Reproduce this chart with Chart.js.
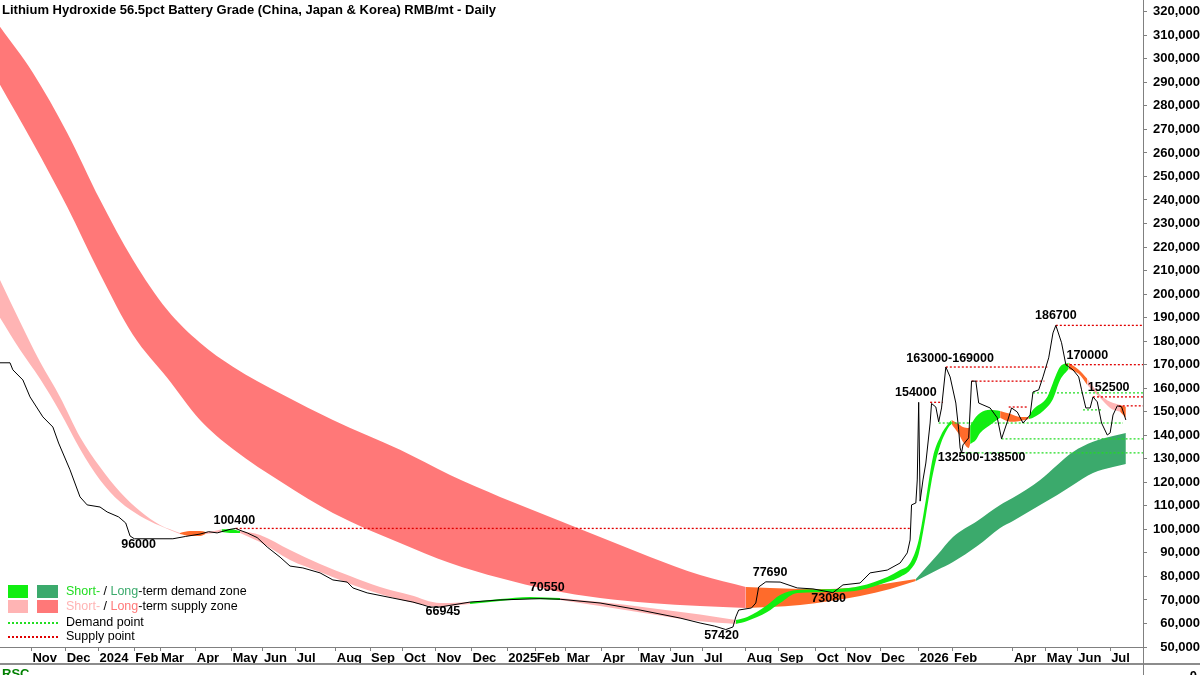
<!DOCTYPE html>
<html>
<head>
<meta charset="utf-8">
<title>Lithium Hydroxide Battery Grade - Daily</title>
<script src="https://cdn.jsdelivr.net/npm/chart.js@4.4.1/dist/chart.umd.min.js"></script>
<style>
  html, body { margin: 0; padding: 0; background: #fff; }
  canvas { display: block; }
</style>
</head>
<body>
<canvas id="chart" width="1200" height="675"></canvas>
<script>
'use strict';

// x axis is a trading-day index, 0 = left edge of the chart
const titleText = 'Lithium Hydroxide 56.5pct Battery Grade (China, Japan & Korea) RMB/mt - Daily';

const monthLabels = ['Nov', 'Dec', '2024', 'Feb', 'Mar', 'Apr', 'May', 'Jun', 'Jul', 'Aug', 'Sep', 'Oct', 'Nov', 'Dec',
  '2025', 'Feb', 'Mar', 'Apr', 'May', 'Jun', 'Jul', 'Aug', 'Sep', 'Oct', 'Nov', 'Dec', '2026', 'Feb', 'Apr', 'May', 'Jun', 'Jul'];
const monthStarts = [22, 46, 69, 94, 112, 137, 162, 184, 207, 235, 259, 282, 305, 330,
  355, 375, 396, 421, 447, 469, 492, 522, 545, 571, 592, 616, 643, 667, 709, 732, 754, 777];

const yTicks = [];
for (let v = 50000; v <= 320000; v += 10000) yTicks.push(v);

// Price
const priceDays = [0, 7, 9, 16, 21, 30, 37, 41, 49, 56,
  61, 70, 75, 83, 88, 91, 94, 121, 130, 140,
  146, 152, 161, 165, 168, 173, 180, 187, 196, 203,
  212, 224, 233, 243, 247, 257, 275, 289, 296, 301,
  308, 329, 350, 378, 392, 420, 448, 476, 490, 500,
  508, 513, 515, 517, 526, 529, 531, 536, 546, 558,
  569, 583, 590, 602, 609, 621, 630, 635, 637, 638,
  641, 642, 643, 644, 646, 648, 651, 652, 655, 657,
  659, 662, 665, 669, 671, 672, 673, 674, 678, 680,
  683, 685, 688, 693, 698, 701, 705, 708, 712, 716,
  721, 723, 727, 730, 734, 737, 739, 743, 746, 748,
  751, 755, 757, 760, 763, 765, 768, 771, 775, 777,
  779, 782, 785, 788];
const priceValues = [170800, 170800, 167800, 163500, 156300, 147800, 143500, 136700, 125300, 113800,
  110400, 109500, 107400, 105300, 102700, 97200, 96000, 96000, 97000, 98000,
  99000, 98500, 100000, 100400, 99600, 98500, 96500, 92500, 88200, 84400,
  83600, 81500, 78500, 77600, 75100, 73000, 70800, 69100, 67900, 66945,
  67000, 69100, 70000, 70550, 70300, 68700, 65700, 62300, 60200, 58900,
  57420, 58500, 62800, 65700, 66600, 68700, 75500, 77690, 77600, 75100,
  74700, 73080, 76400, 77200, 81500, 82700, 85700, 90000, 95500, 110400,
  111200, 121000, 154000, 112000, 121000, 128200, 145200, 153500, 152000, 145700,
  151600, 169000, 164800, 153700, 142300, 134600, 132500, 135900, 138900, 163000,
  163000, 153700, 152900, 151600, 147400, 138500, 145700, 151600, 149900, 145200,
  148600, 158400, 159300, 164800, 172900, 183500, 186700, 179300, 170000, 169100,
  167800, 164800, 159300, 151600, 151600, 156300, 154200, 145200, 140100, 141000,
  148600, 152500, 152100, 146500];

// Short-term zone (upper / lower edge) and how it is classed between breaks
const shortDays = [0, 14, 28, 42, 56, 70, 84, 98, 112, 126,
  133, 140, 144, 150, 155, 161, 168, 182, 203, 224,
  245, 266, 287, 308, 315, 329, 350, 371, 392, 420,
  455, 490, 515, 523, 537, 546, 558, 586, 602, 621,
  630, 637, 643, 648, 653, 658, 664, 666, 671, 674,
  678, 679, 683, 686, 693, 700, 707, 714, 720, 723,
  733, 737, 742, 748, 755, 761, 763, 770, 777, 784, 788];
const shortUpper = [206000, 188200, 171200, 156300, 139300, 126500, 115900, 107800, 101900, 98500,
  99300, 99300, 98900, 99300, 100000, 100200, 99300, 97600, 91200, 85300,
  80200, 75500, 72100, 68700, 68700, 69100, 70400, 71300, 70800, 69100,
  66600, 63800, 61500, 62800, 67900, 72100, 74200, 74700, 75900, 79800,
  82700, 85700, 95500, 112500, 130800, 139300, 145200, 146500, 144800, 143500,
  143100, 144000, 147800, 149500, 150800, 150300, 149100, 147800, 147800, 150800,
  156300, 162300, 169100, 170800, 167800, 164000, 162300, 157200, 154200, 152900, 152100];
const shortLower = [189900, 176300, 164000, 149900, 134200, 121000, 111700, 105700, 101500, 98000,
  97200, 97200, 98000, 98500, 98900, 98500, 98500, 94600, 87000, 81900,
  76800, 72500, 69100, 67000, 67400, 68300, 69600, 70400, 70000, 67400,
  64000, 60900, 59800, 61100, 64900, 68700, 73000, 73400, 74200, 77600,
  79800, 82700, 89500, 105700, 123600, 135500, 143500, 144800, 140600, 137200,
  134600, 136300, 138000, 141000, 144400, 147400, 145700, 146100, 146900, 147400,
  152000, 155400, 163500, 168200, 166100, 161400, 160100, 155900, 151600, 150000, 147400];
const shortBreaks = [0, 126, 144, 155, 168, 329, 392, 515, 666, 679, 700, 720, 748, 761, 784, 788];
const shortKinds = ['supply', 'turn', 'supply', 'demand', 'supply', 'demand', 'supply', 'demand',
  'turn', 'demand', 'turn', 'demand', 'turn', 'supply', 'turn'];

// Long-term zone
const longDays = [0, 23, 47, 70, 93, 117, 140, 163, 198, 233, 280, 315, 350, 385, 420, 455, 490, 522,
  539, 560, 581, 602, 623, 641, 656, 667, 684, 700, 709, 728, 740, 751, 765, 779, 788];
const longUpper = [313600, 294100, 268600, 240100, 214600, 193300, 179300, 169100, 157200, 146500,
  133800, 123100, 113800, 105300, 96800, 88300, 80600, 75500,
  75100, 74700, 74700, 75500, 77200, 78900, 89100, 96800, 103600, 110400, 113400, 121000,
  127400, 132900, 137200, 139700, 141000];
const longLower = [289000, 264300, 237100, 208500, 182700, 164400, 146500, 134200, 119700, 107000,
  94200, 85700, 79300, 74200, 70800, 68700, 67400, 66600,
  67000, 67900, 69600, 71700, 74700, 78100, 82700, 86100, 92900, 100600, 103600, 110400,
  114600, 118900, 124000, 126500, 127800];
const longBreaks = [0, 522, 641, 788];
const longKinds = ['supply', 'turn', 'demand'];

// Supply / demand points
const supplyLevels = [100400, 154000, 169000, 163000, 152000, 186700, 170000, 156300, 152500];
const supplyFrom = [165, 651, 662, 680, 706, 739, 746, 765, 783];
const supplyTo = [637, 660, 733, 731, 719, 800, 800, 800, 800];
const demandLevels = [145200, 158000, 150800, 138500, 132500];
const demandFrom = [657, 723, 758, 701, 673];
const demandTo = [786, 800, 771, 800, 800];

// Price labels
const labelTexts = ['96000', '100400', '66945', '70550', '57420', '77690', '73080', '154000',
  '163000-169000', '132500-138500', '186700', '170000', '152500'];
const labelDays = [97, 164, 310, 383, 505, 539, 580, 641, 665, 687, 739, 761, 776];
const labelValues = [93400, 103600, 64900, 75100, 54700, 81500, 70400, 158000, 172500, 130400, 191000, 173700, 160100];

// Colours
const fontFamily = '"Liberation Sans", Arial, sans-serif';
const shortColors = { supply: '#FFB4B4', demand: '#11EE11', turn: '#FF6B2B' };
const longColors = { supply: '#FF7878', demand: '#3BAA6C', turn: '#FF6B2B' };
const supplyDot = '#E00000';
const demandDot = '#22DD22';

function zoneDatasets(days, upper, lower, breaks, kinds, colors) {
  const out = [];
  for (let s = 0; s < kinds.length; s++) {
    const idx = [];
    days.forEach((d, i) => {
      if (d >= breaks[s] && d <= breaks[s + 1]) idx.push(i);
    });
    out.push({
      data: idx.map(i => ({ x: days[i], y: upper[i] })),
      borderColor: 'rgba(0,0,0,0)', borderWidth: 0, pointRadius: 0,
      fill: false, cubicInterpolationMode: 'monotone'
    });
    out.push({
      data: idx.map(i => ({ x: days[i], y: lower[i] })),
      borderColor: 'rgba(0,0,0,0)', borderWidth: 0, pointRadius: 0,
      fill: '-1', backgroundColor: colors[kinds[s]], cubicInterpolationMode: 'monotone'
    });
  }
  return out;
}

function levelDatasets(levels, from, to, color) {
  return levels.map((v, i) => ({
    data: [{ x: from[i], y: v }, { x: to[i], y: v }],
    borderColor: color, borderWidth: 1.3, borderDash: [2, 2],
    pointRadius: 0, fill: false
  }));
}

const datasets = [];
datasets.push({
  data: priceDays.map((d, i) => ({ x: d, y: priceValues[i] })),
  borderColor: '#000', borderWidth: 1, pointRadius: 0, fill: false, tension: 0
});
datasets.push(...levelDatasets(supplyLevels, supplyFrom, supplyTo, supplyDot));
datasets.push(...levelDatasets(demandLevels, demandFrom, demandTo, demandDot));
datasets.push(...zoneDatasets(shortDays, shortUpper, shortLower, shortBreaks, shortKinds, shortColors));
datasets.push(...zoneDatasets(longDays, longUpper, longLower, longBreaks, longKinds, longColors));

// Title, labels, legend and the bits under the axis
const overlay = {
  id: 'overlay',
  afterDraw(chart) {
    const ctx = chart.ctx;
    const xs = chart.scales.x;
    const ys = chart.scales.y;
    const area = chart.chartArea;
    ctx.save();

    ctx.fillStyle = '#000';
    ctx.font = 'bold 13px ' + fontFamily;
    ctx.textAlign = 'left';
    ctx.textBaseline = 'middle';
    ctx.fillText(titleText, 2, 10);

    ctx.font = 'bold 12.5px ' + fontFamily;
    ctx.textAlign = 'center';
    for (let i = 0; i < labelTexts.length; i++) {
      ctx.fillText(labelTexts[i], xs.getPixelForValue(labelDays[i]), ys.getPixelForValue(labelValues[i]));
    }

    // legend
    const boxes = [[shortColors.demand, longColors.demand, 585], [shortColors.supply, longColors.supply, 600]];
    boxes.forEach(b => {
      ctx.fillStyle = b[0];
      ctx.fillRect(8, b[2], 20, 13);
      ctx.fillStyle = b[1];
      ctx.fillRect(37, b[2], 21, 13);
    });
    const rows = [
      [['Short-', demandDot], [' / ', '#000'], ['Long', longColors.demand], ['-term demand zone', '#000']],
      [['Short-', shortColors.supply], [' / ', '#000'], ['Long', longColors.supply], ['-term supply zone', '#000']],
      [['Demand point', '#000']],
      [['Supply point', '#000']]
    ];
    const rowY = [592, 607, 623, 637];
    ctx.font = '12.5px ' + fontFamily;
    ctx.textAlign = 'left';
    rows.forEach((row, r) => {
      let x = 66;
      row.forEach(part => {
        ctx.fillStyle = part[1];
        ctx.fillText(part[0], x, rowY[r]);
        x += ctx.measureText(part[0]).width;
      });
    });
    ctx.lineWidth = 2;
    ctx.setLineDash([2, 2]);
    [[demandDot, 623], [supplyDot, 637]].forEach(l => {
      ctx.strokeStyle = l[0];
      ctx.beginPath();
      ctx.moveTo(8, l[1]);
      ctx.lineTo(58, l[1]);
      ctx.stroke();
    });
    ctx.setLineDash([]);

    // under the x axis
    ctx.strokeStyle = '#8C8C8C';
    ctx.lineWidth = 2;
    ctx.beginPath();
    ctx.moveTo(0, 664);
    ctx.lineTo(1200, 664);
    ctx.stroke();
    ctx.strokeStyle = '#808080';
    ctx.lineWidth = 1;
    ctx.beginPath();
    ctx.moveTo(Math.round(area.right) + 0.5, area.bottom);
    ctx.lineTo(Math.round(area.right) + 0.5, 675);
    ctx.stroke();

    ctx.font = 'bold 13px ' + fontFamily;
    ctx.textBaseline = 'top';
    ctx.fillStyle = '#008000';
    ctx.fillText('RSC', 2, 668);
    ctx.fillStyle = '#000';
    ctx.textAlign = 'right';
    ctx.fillText('0', 1197, 670);
    ctx.restore();
  }
};

const chart = new Chart(document.getElementById('chart').getContext('2d'), {
  type: 'line',
  data: { datasets: datasets },
  options: {
    responsive: false,
    animation: false,
    devicePixelRatio: 1,
    events: [],
    layout: { padding: 0 },
    plugins: { legend: { display: false }, tooltip: { enabled: false } },
    scales: {
      x: {
        type: 'linear',
        position: 'bottom',
        min: 0,
        max: 800,
        afterBuildTicks: scale => { scale.ticks = monthStarts.map(v => ({ value: v })); },
        afterFit: scale => {
          scale.height = 28;
          scale.paddingLeft = 0;
          scale.paddingRight = 0;
        },
        grid: { drawOnChartArea: false, drawTicks: true, tickLength: 4, color: '#808080' },
        border: { display: true, color: '#808080' },
        ticks: {
          autoSkip: false, maxRotation: 0, align: 'start', labelOffset: 1, padding: 0,
          color: '#000', font: { family: fontFamily, size: 13, weight: 'bold' },
          callback: (value, index) => monthLabels[index]
        }
      },
      y: {
        type: 'linear',
        position: 'right',
        min: 50000,
        max: 325000,
        afterBuildTicks: scale => { scale.ticks = yTicks.map(v => ({ value: v })); },
        afterFit: scale => {
          scale.width = 57;
          scale.paddingTop = 0;
          scale.paddingBottom = 0;
        },
        grid: { drawOnChartArea: false, drawTicks: true, tickLength: 4, color: '#808080' },
        border: { display: true, color: '#808080' },
        ticks: {
          crossAlign: 'far', padding: 5,
          color: '#000', font: { family: fontFamily, size: 13, weight: 'bold' },
          callback: value => value.toLocaleString('en-US')
        }
      }
    }
  },
  plugins: [overlay]
});
</script>
</body>
</html>
